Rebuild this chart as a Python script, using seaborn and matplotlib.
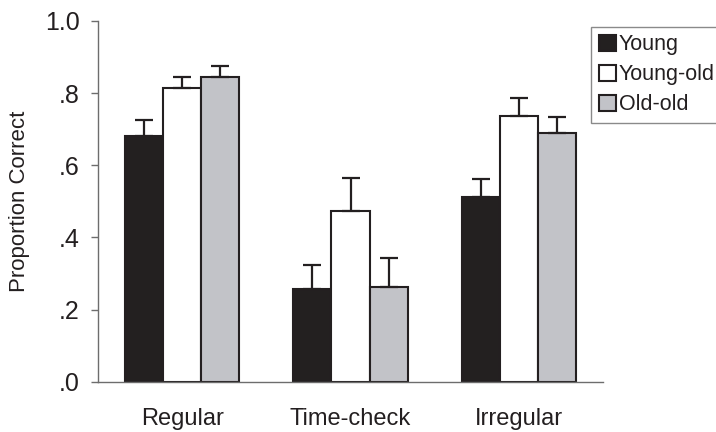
import matplotlib
matplotlib.use("Agg")
import matplotlib.pyplot as plt
import seaborn as sns
import pandas as pd
import numpy as np

conditions = ["Regular", "Time-check", "Irregular"]
groups = ["Young", "Young-old", "Old-old"]
young = [0.681, 0.257, 0.511]
young_old = [0.813, 0.473, 0.737]
old_old = [0.845, 0.262, 0.690]
young_err = [0.045, 0.066, 0.050]
young_old_err = [0.031, 0.091, 0.049]
old_old_err = [0.030, 0.080, 0.045]
ytick_vals = [0.0, 0.2, 0.4, 0.6, 0.8, 1.0]
ytick_labels = [".0", ".2", ".4", ".6", ".8", "1.0"]

values = [young, young_old, old_old]
errors = [young_err, young_old_err, old_old_err]
rows = []
for g, vals in zip(groups, values):
    for c, v in zip(conditions, vals):
        rows.append({"Condition": c, "Group": g, "Value": v})
df = pd.DataFrame(rows)

sns.set_style("ticks")
plt.rcParams["font.family"] = ["Liberation Sans", "DejaVu Sans"]
ink = "#231f20"
palette = {"Young": "#231f20", "Young-old": "#ffffff", "Old-old": "#c1c3c9"}

fig = plt.figure(figsize=(7.16, 4.32), dpi=100)
ax = fig.add_axes([98 / 716, 1 - 381.7 / 432, (603 - 98) / 716, (381.7 - 21) / 432])

sns.barplot(data=df, x="Condition", y="Value", hue="Group", order=conditions,
            hue_order=groups, palette=palette, errorbar=None, width=0.68,
            edgecolor=ink, linewidth=1.5, ax=ax, legend=True)

for cont, errs in zip(ax.containers, errors):
    xs = [p.get_x() + p.get_width() / 2 for p in cont]
    hs = [p.get_height() for p in cont]
    ax.errorbar(xs, hs, yerr=[np.zeros(len(errs)), errs], fmt="none",
                ecolor=ink, elinewidth=1.6, capsize=6.5, capthick=1.6, zorder=1)

ax.set_xlim(-0.5, 2.5)
ax.set_ylim(0, 1.0)
ax.set_yticks(ytick_vals)
ax.set_yticklabels(ytick_labels)
ax.set_xlabel("")
ax.set_ylabel("Proportion Correct", fontsize=16, color=ink, labelpad=11)
ax.tick_params(axis="y", length=5, width=1, color="#6d6d6d", pad=8, labelsize=18, labelcolor=ink)
ax.tick_params(axis="x", length=0, pad=19, labelsize=17, labelcolor=ink)
for s in ["top", "right"]:
    ax.spines[s].set_visible(False)
for s in ["left", "bottom"]:
    ax.spines[s].set_color("#6d6d6d")
    ax.spines[s].set_linewidth(1)

leg = ax.legend(loc="upper left", bbox_to_anchor=(591 / 716, 1 - 26.7 / 432),
                bbox_transform=fig.transFigure, frameon=True, fancybox=False,
                fontsize=15.5, handlelength=0.8, handleheight=0.8,
                handletextpad=0.15, labelspacing=0.42, borderpad=0.35,
                borderaxespad=0, title=None)
leg.get_frame().set_edgecolor("#6d6d6d")
leg.get_frame().set_linewidth(1)
for t in leg.get_texts():
    t.set_color(ink)

fig.savefig("out.png", dpi=100)
